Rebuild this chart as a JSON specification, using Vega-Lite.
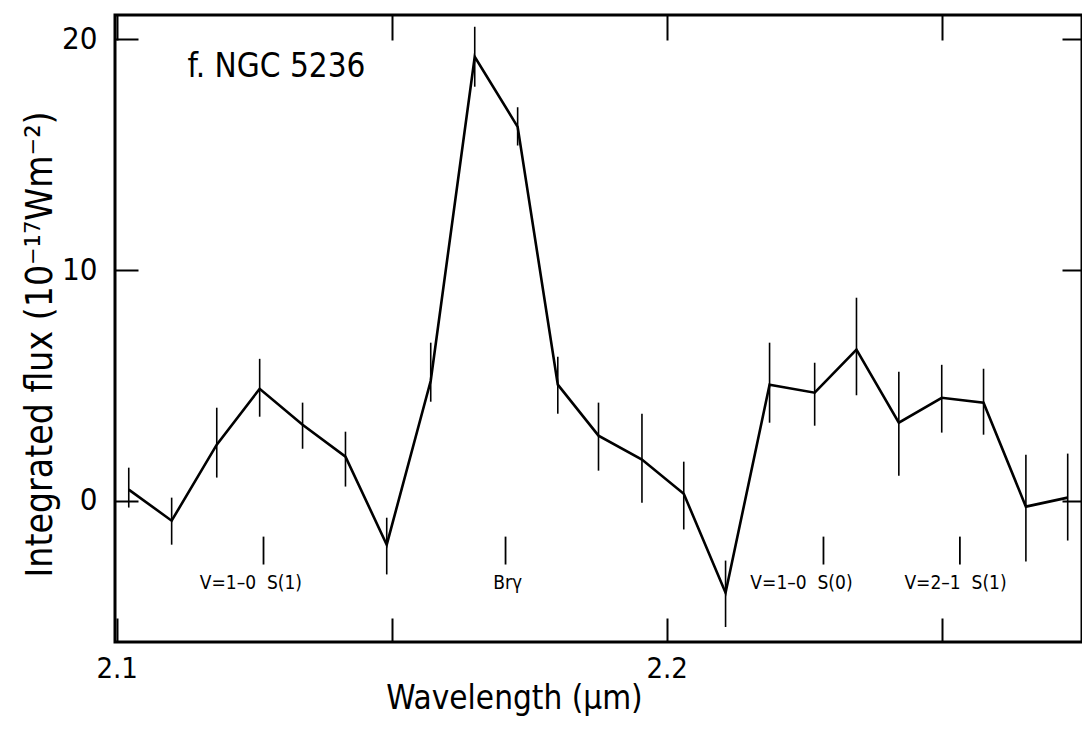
{
  "$schema": "https://vega.github.io/schema/vega-lite/v6.json",
  "width": 967,
  "height": 627,
  "autosize": {"type": "none"},
  "padding": {"left": 115, "top": 15, "right": 0, "bottom": 95},
  "background": "white",
  "config": {
    "view": {"stroke": "black", "strokeWidth": 3},
    "font": "DejaVu Sans Condensed",
    "axis": {
      "grid": false,
      "domain": false,
      "tickColor": "black",
      "tickWidth": 2,
      "labelColor": "black",
      "titleColor": "black",
      "labelFont": "DejaVu Sans Condensed",
      "titleFont": "DejaVu Sans Condensed",
      "titleFontWeight": "normal",
      "labelFlush": false,
      "labelOverlap": false,
      "labelBound": false
    }
  },
  "datasets": {
    "flux": [
      {"wl": 2.1022, "flux": 0.48, "lo": -0.30, "hi": 1.43},
      {"wl": 2.1100, "flux": -0.87, "lo": -1.91, "hi": 0.13},
      {"wl": 2.1182, "flux": 2.43, "lo": 1.00, "hi": 4.03},
      {"wl": 2.1260, "flux": 4.85, "lo": 3.64, "hi": 6.15},
      {"wl": 2.1338, "flux": 3.29, "lo": 2.25, "hi": 4.25},
      {"wl": 2.1416, "flux": 1.91, "lo": 0.61, "hi": 2.99},
      {"wl": 2.1491, "flux": -1.91, "lo": -3.20, "hi": -0.74},
      {"wl": 2.1571, "flux": 5.2, "lo": 4.29, "hi": 6.85},
      {"wl": 2.1651, "flux": 19.25, "lo": 17.95, "hi": 20.55},
      {"wl": 2.1729, "flux": 16.21, "lo": 15.40, "hi": 17.06},
      {"wl": 2.1802, "flux": 5.03, "lo": 3.77, "hi": 6.24},
      {"wl": 2.1876, "flux": 2.82, "lo": 1.30, "hi": 4.25},
      {"wl": 2.1955, "flux": 1.78, "lo": -0.09, "hi": 3.77},
      {"wl": 2.2031, "flux": 0.30, "lo": -1.25, "hi": 1.69},
      {"wl": 2.2107, "flux": -3.99, "lo": -5.48, "hi": -2.60},
      {"wl": 2.2187, "flux": 5.03, "lo": 3.38, "hi": 6.85},
      {"wl": 2.2269, "flux": 4.68, "lo": 3.25, "hi": 5.98},
      {"wl": 2.2345, "flux": 6.55, "lo": 4.57, "hi": 8.80},
      {"wl": 2.2422, "flux": 3.38, "lo": 1.08, "hi": 5.59},
      {"wl": 2.2500, "flux": 4.46, "lo": 2.95, "hi": 5.89},
      {"wl": 2.2576, "flux": 4.25, "lo": 2.86, "hi": 5.72},
      {"wl": 2.2653, "flux": -0.26, "lo": -2.64, "hi": 1.99},
      {"wl": 2.2729, "flux": 0.13, "lo": -1.73, "hi": 2.04}
    ],
    "lines": [
      {"line": "V=1–0\u00a0\u00a0S(1)", "wl": 2.1267, "lwl": 2.1244},
      {"line": "Brγ", "wl": 2.1707, "lwl": 2.1711},
      {"line": "V=1–0\u00a0\u00a0S(0)", "wl": 2.2285, "lwl": 2.2245},
      {"line": "V=2–1\u00a0\u00a0S(1)", "wl": 2.2533, "lwl": 2.2525}
    ]
  },
  "resolve": {"axis": {"x": "independent", "y": "independent"}},
  "layer": [
    {
      "data": {"name": "flux"},
      "mark": {"type": "rule", "color": "black", "strokeWidth": 1.6},
      "encoding": {
        "x": {
          "field": "wl", "type": "quantitative",
          "scale": {"domain": [2.0997, 2.2755], "nice": false, "zero": false},
          "axis": {"orient": "top", "values": [2.1, 2.15, 2.2, 2.25], "tickSize": -25, "labels": false, "title": null}
        },
        "y": {
          "field": "lo", "type": "quantitative",
          "scale": {"domain": [-6.13, 21.06], "nice": false, "zero": false},
          "axis": {"orient": "right", "values": [0, 10, 20], "tickSize": -20, "labels": false, "title": null}
        },
        "y2": {"field": "hi"}
      }
    },
    {
      "data": {"name": "flux"},
      "mark": {"type": "line", "color": "black", "strokeWidth": 2.6, "strokeJoin": "miter"},
      "encoding": {
        "x": {
          "field": "wl", "type": "quantitative",
          "scale": {"domain": [2.0997, 2.2755], "nice": false, "zero": false},
          "axis": {
            "orient": "bottom",
            "values": [2.1, 2.15, 2.2, 2.25],
            "tickSize": -24,
            "labelPadding": 36,
            "labelFontSize": 29,
            "labelExpr": "datum.value == 2.1 ? '2.1' : (datum.value == 2.2 ? '2.2' : '')",
            "title": "Wavelength (μm)",
            "titleFontSize": 33,
            "titleX": 399,
            "titleY": 40,
            "titleAlign": "center",
            "titleBaseline": "top"
          }
        },
        "y": {
          "field": "flux", "type": "quantitative",
          "scale": {"domain": [-6.13, 21.06], "nice": false, "zero": false},
          "axis": {
            "orient": "left",
            "values": [0, 10, 20],
            "tickSize": -23,
            "labelPadding": 41,
            "labelFontSize": 31,
            "title": "Integrated flux (10⁻¹⁷Wm⁻²)",
            "titleFontSize": 37,
            "titleX": -75,
            "titleY": 329,
            "titleAlign": "center",
            "titleBaseline": "middle"
          }
        }
      }
    },
    {
      "data": {"name": "lines"},
      "mark": {"type": "rule", "color": "black", "strokeWidth": 1.8},
      "encoding": {
        "x": {"field": "wl", "type": "quantitative", "scale": {"domain": [2.0997, 2.2755], "nice": false, "zero": false}, "axis": null},
        "y": {"datum": -1.56, "type": "quantitative", "scale": {"domain": [-6.13, 21.06], "nice": false, "zero": false}, "axis": null},
        "y2": {"datum": -2.77}
      }
    },
    {
      "data": {"name": "lines"},
      "mark": {"type": "text", "fontSize": 19, "align": "center", "baseline": "middle", "color": "black"},
      "encoding": {
        "x": {"field": "lwl", "type": "quantitative", "scale": {"domain": [2.0997, 2.2755], "nice": false, "zero": false}, "axis": null},
        "y": {"datum": -3.55, "type": "quantitative", "scale": {"domain": [-6.13, 21.06], "nice": false, "zero": false}, "axis": null},
        "text": {"field": "line"}
      }
    },
    {
      "data": {"values": [{"name": "f. NGC 5236"}]},
      "mark": {"type": "text", "fontSize": 33, "align": "left", "baseline": "middle", "color": "black"},
      "encoding": {
        "x": {"datum": 2.1129, "type": "quantitative", "scale": {"domain": [2.0997, 2.2755], "nice": false, "zero": false}, "axis": null},
        "y": {"datum": 18.8, "type": "quantitative", "scale": {"domain": [-6.13, 21.06], "nice": false, "zero": false}, "axis": null},
        "text": {"field": "name"}
      }
    }
  ]
}
